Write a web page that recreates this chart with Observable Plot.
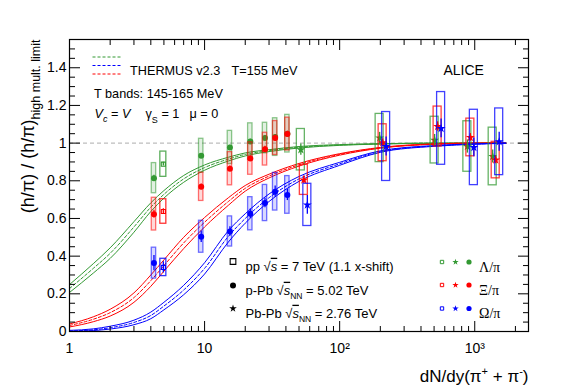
<!DOCTYPE html>
<html>
<head>
<meta charset="utf-8">
<script src="https://cdn.jsdelivr.net/npm/d3@7"></script>
<script src="https://cdn.jsdelivr.net/npm/@observablehq/plot@0.6"></script>
<style>
  html, body { margin: 0; padding: 0; background: #fff; }
  #chart svg { display: block; }
</style>
</head>
<body>
<div id="chart"></div>
<script>
// ---------------- data ----------------
const speciesNames = ["Λ/π", "Ξ/π", "Ω/π"];
const speciesColors = ["#339933", "#ff0000", "#0000ff"];

// pp 7 TeV (plotted with 1.1 x-shift)
const ppShift = 1.1;
const ppX = [4.5];
const ppLambda = [0.888], ppLambdaSys = [0.067], ppLambdaStat = [0.01];
const ppXi = [0.637], ppXiSys = [0.065], ppXiStat = [0.015];
const ppOmega = [0.340], ppOmegaSys = [0.046], ppOmegaStat = [0.03];

// p-Pb 5.02 TeV
const pPbX = [4.22, 9.44, 15.4, 21.8, 28.0, 33.3, 41.0];
const pPbLambda = [0.814, 0.933, 0.977, 1.008, 1.027, 1.032, 1.050];
const pPbLambdaSys = [0.080, 0.090, 0.088, 0.097, 0.081, 0.100, 0.100];
const pPbLambdaStat = [0.015, 0.012, 0.012, 0.012, 0.012, 0.012, 0.012];
const pPbXi = [0.623, 0.768, 0.864, 0.918, 0.968, 1.027, 1.048];
const pPbXiSys = [0.087, 0.075, 0.088, 0.086, 0.087, 0.090, 0.087];
const pPbXiStat = [0.02, 0.015, 0.015, 0.015, 0.015, 0.015, 0.015];
const pPbOmega = [0.363, 0.503, 0.531, 0.625, 0.682, 0.742, 0.725];
const pPbOmegaSys = [0.082, 0.085, 0.080, 0.088, 0.096, 0.100, 0.100];
const pPbOmegaStat = [0.04, 0.03, 0.025, 0.025, 0.025, 0.03, 0.03];

// Pb-Pb 2.76 TeV
const PbPbX = [54.3, 208, 531, 928, 1429];
const PbPbLambda = [0.965, 1.027, 1.016, 0.982, 0.929];
const PbPbLambdaSys = [0.110, 0.128, 0.124, 0.134, 0.153];
const PbPbLambdaStat = [0.03, 0.03, 0.03, 0.035, 0.035];
const PbPbXi = [0.805, 1.002, 1.088, 1.030, 0.910];
const PbPbXiSys = [0.080, 0.098, 0.106, 0.100, 0.097];
const PbPbXiStat = [0.02, 0.02, 0.025, 0.02, 0.02];
const PbPbOmega = [0.672, 0.982, 1.078, 0.977, 1.007];
const PbPbOmegaSys = [0.112, 0.183, 0.193, 0.200, 0.177];
const PbPbOmegaStat = [0.05, 0.05, 0.05, 0.05, 0.05];

// THERMUS v2.3 curves (T=155 MeV central, 145-165 MeV band edges)
const curveX = [1, 1.5, 2, 3, 4, 5, 7, 10, 15, 20, 30, 50, 100, 200, 500, 1000, 1700];
const lambdaMid = [0.228, 0.335, 0.415, 0.555, 0.660, 0.728, 0.810, 0.870, 0.915, 0.940, 0.960, 0.978, 0.990, 0.996, 1.000, 1.000, 1.000];
const lambdaLo  = [0.207, 0.310, 0.388, 0.527, 0.637, 0.708, 0.792, 0.856, 0.905, 0.932, 0.955, 0.974, 0.988, 0.995, 0.999, 1.000, 1.000];
const lambdaHi  = [0.249, 0.360, 0.444, 0.583, 0.683, 0.748, 0.828, 0.884, 0.925, 0.948, 0.965, 0.982, 0.992, 0.997, 1.000, 1.000, 1.000];
const xiMid = [0.032, 0.065, 0.100, 0.180, 0.270, 0.350, 0.470, 0.580, 0.690, 0.760, 0.825, 0.885, 0.940, 0.975, 0.995, 1.000, 1.000];
const xiLo  = [0.024, 0.052, 0.082, 0.155, 0.240, 0.320, 0.440, 0.555, 0.670, 0.745, 0.815, 0.878, 0.936, 0.973, 0.994, 0.999, 1.000];
const xiHi  = [0.040, 0.078, 0.118, 0.205, 0.300, 0.380, 0.500, 0.605, 0.710, 0.775, 0.835, 0.892, 0.944, 0.977, 0.996, 1.000, 1.000];
const omegaMid = [0.003, 0.009, 0.020, 0.048, 0.085, 0.135, 0.220, 0.335, 0.505, 0.600, 0.710, 0.810, 0.890, 0.955, 0.985, 0.995, 1.000];
const omegaLo  = [0.000, 0.005, 0.013, 0.036, 0.068, 0.115, 0.195, 0.305, 0.475, 0.575, 0.690, 0.797, 0.882, 0.951, 0.983, 0.994, 0.999];
const omegaHi  = [0.006, 0.014, 0.028, 0.060, 0.103, 0.155, 0.245, 0.365, 0.535, 0.625, 0.730, 0.823, 0.898, 0.959, 0.987, 0.996, 1.000];

// axis ticks and labels
const yMajor = [0, 0.2, 0.4, 0.6, 0.8, 1, 1.2, 1.4];
const yTickLabels = ["0", "0.2", "0.4", "0.6", "0.8", "1", "1.2", "1.4"];
const yMinor = [0.05, 0.1, 0.15, 0.25, 0.3, 0.35, 0.45, 0.5, 0.55, 0.65, 0.7, 0.75, 0.85, 0.9, 0.95, 1.05, 1.1, 1.15, 1.25, 1.3, 1.35, 1.45, 1.5];
const xMajor = [1, 10, 100, 1000];
const xTickLabels = ["1", "10", "10²", "10³"];
const xMinor = [2, 3, 4, 5, 6, 7, 8, 9, 20, 30, 40, 50, 60, 70, 80, 90, 200, 300, 400, 500, 600, 700, 800, 900, 2000];

// ---------------- build ----------------
const serif = "'Liberation Serif', 'DejaVu Serif', serif";
const sans = "'Liberation Sans', Arial, Helvetica, sans-serif";

function rows(xs, vals, sys, stat, shift) {
  return xs.map((x, i) => ({
    x: x * shift, y: vals[i],
    lo: vals[i] - sys[i], hi: vals[i] + sys[i],
    slo: vals[i] - stat[i], shi: vals[i] + stat[i]
  }));
}

const systems = [
  {xs: ppX, shift: ppShift, vals: [ppLambda, ppXi, ppOmega], sys: [ppLambdaSys, ppXiSys, ppOmegaSys], stat: [ppLambdaStat, ppXiStat, ppOmegaStat],
   symbol: "square", filled: false, r: 2.3, half: 3, dxs: [0, 0, 0], boxOpacity: 0.8, boxFill: 0},
  {xs: pPbX, shift: 1, vals: [pPbLambda, pPbXi, pPbOmega], sys: [pPbLambdaSys, pPbXiSys, pPbOmegaSys], stat: [pPbLambdaStat, pPbXiStat, pPbOmegaStat],
   symbol: "circle", filled: true, r: 3, half: 2.2, dxs: [0, 0, 0], boxOpacity: 0.55, boxFill: 0.15},
  {xs: PbPbX, shift: 1, vals: [PbPbLambda, PbPbXi, PbPbOmega], sys: [PbPbLambdaSys, PbPbXiSys, PbPbOmegaSys], stat: [PbPbLambdaStat, PbPbXiStat, PbPbOmegaStat],
   symbol: "star", filled: true, r: 2.8, half: 4, dxs: [-3, 0, 3.5], boxOpacity: 0.75, boxFill: 0}
];

const marks = [];
marks.push(Plot.ruleY([1], {stroke: "#bdbdbd", strokeDasharray: "4,3", strokeWidth: 1.3}));

// model curves
const curveSets = [[lambdaLo, lambdaMid, lambdaHi], [xiLo, xiMid, xiHi], [omegaLo, omegaMid, omegaHi]];
curveSets.forEach((set, s) => {
  const c = curveX.map((x, i) => ({x, lo: set[0][i], mid: set[1][i], hi: set[2][i], sp: speciesNames[s]}));
  marks.push(Plot.line(c, {x: "x", y: "lo", stroke: "sp", strokeWidth: 1, curve: "monotone-x"}));
  marks.push(Plot.line(c, {x: "x", y: "hi", stroke: "sp", strokeWidth: 1, curve: "monotone-x"}));
  marks.push(Plot.line(c, {x: "x", y: "mid", stroke: "sp", strokeWidth: 1, strokeDasharray: "3,2", curve: "monotone-x"}));
});

// data points
systems.forEach(sysDef => {
  [0, 1, 2].forEach(s => {
    const d = rows(sysDef.xs, sysDef.vals[s], sysDef.sys[s], sysDef.stat[s], sysDef.shift).map(r => ({...r, sp: speciesNames[s]}));
    const dx = sysDef.dxs[s];
    marks.push(Plot.rect(d, {x1: "x", x2: "x", y1: "lo", y2: "hi", fill: "sp", fillOpacity: sysDef.boxFill, stroke: "sp", strokeWidth: 1.3,
      strokeOpacity: sysDef.boxOpacity, insetLeft: -sysDef.half, insetRight: -sysDef.half, dx}));
    marks.push(Plot.ruleX(d, {x: "x", y1: "slo", y2: "shi", stroke: "sp", strokeWidth: 1.3, dx}));
    marks.push(Plot.dot(d, sysDef.filled
      ? {x: "x", y: "y", symbol: sysDef.symbol, r: sysDef.r, fill: "sp", dx}
      : {x: "x", y: "y", symbol: sysDef.symbol, r: sysDef.r, fill: "none", stroke: "sp", strokeWidth: 1.1, dx}));
  });
});

// frame + axes (ROOT style: ticks inside, on all four sides)
marks.push(Plot.frame({stroke: "#000", strokeWidth: 1.2}));
marks.push(Plot.axisY(yMajor, {anchor: "left", tickSize: 11, dx: 11, fill: "none", label: null}));
marks.push(Plot.axisY(yMajor, {anchor: "right", tickSize: 11, dx: -11, fill: "none", label: null}));
marks.push(Plot.axisY(yMinor, {anchor: "left", tickSize: 6, dx: 6, fill: "none", label: null}));
marks.push(Plot.axisY(yMinor, {anchor: "right", tickSize: 6, dx: -6, fill: "none", label: null}));
marks.push(Plot.axisX(xMajor, {anchor: "bottom", tickSize: 10, dy: -10, fill: "none", label: null}));
marks.push(Plot.axisX(xMajor, {anchor: "top", tickSize: 10, dy: 10, fill: "none", label: null}));
marks.push(Plot.axisX(xMinor, {anchor: "bottom", tickSize: 5, dy: -5, fill: "none", label: null}));
marks.push(Plot.axisX(xMinor, {anchor: "top", tickSize: 5, dy: 5, fill: "none", label: null}));
marks.push(Plot.axisY(yMajor, {anchor: "left", tickSize: 0, tickPadding: 3, fontSize: 14, label: null,
  tickFormat: d => yTickLabels[yMajor.indexOf(d)]}));
marks.push(Plot.axisX(xMajor, {anchor: "bottom", tickSize: 0, tickPadding: 12, fontSize: 14, label: null,
  tickFormat: d => xTickLabels[xMajor.indexOf(d)]}));

// axis titles
const yTitle = "(h/π) / (h/π)high mult. limit";
const xTitle = "dN/dy(π+ + π-)";
marks.push(Plot.text([yTitle], {frameAnchor: "top-left", dx: -36, dy: 0, rotate: -90,
  textAnchor: "end", lineAnchor: "bottom", fontSize: 18, fill: "#000"}));
marks.push(Plot.text([xTitle], {frameAnchor: "bottom-right", dx: 0, dy: 50,
  textAnchor: "end", lineAnchor: "bottom", fontSize: 17, fill: "#000"}));

// top-left legend
const modelLabel = "THERMUS v2.3", tempLabel = "T=155 MeV", bandLabel = "T bands: 145-165 MeV";
const vcLabel = "Vc = V", gsLabel = "γS = 1", muLabel = "μ = 0";
const dashSym = {draw(ctx) { ctx.moveTo(-14, 0); ctx.lineTo(14, 0); }};
[[0, 17.5], [2, 26], [1, 34.5]].forEach(([s, dy]) => {
  marks.push(Plot.dot([0], {frameAnchor: "top-left", dx: 37, dy, symbol: dashSym, fill: "none",
    stroke: speciesColors[s], strokeWidth: 1, strokeDasharray: "3,2"}));
});
marks.push(Plot.text([modelLabel], {frameAnchor: "top-left", dx: 60.5, dy: 26.5, textAnchor: "start", fontSize: 12.7, fill: "#000"}));
marks.push(Plot.text([tempLabel], {frameAnchor: "top-left", dx: 162, dy: 26.5, textAnchor: "start", fontSize: 12.7, fill: "#000"}));
marks.push(Plot.text([bandLabel], {frameAnchor: "top-left", dx: 24.5, dy: 49.5, textAnchor: "start", fontSize: 12.7, fill: "#000"}));
marks.push(Plot.text([vcLabel], {frameAnchor: "top-left", dx: 25, dy: 69, textAnchor: "start", fontSize: 12.7, fill: "#000"}));
marks.push(Plot.text([gsLabel], {frameAnchor: "top-left", dx: 76, dy: 69, textAnchor: "start", fontSize: 12.7, fill: "#000"}));
marks.push(Plot.text([muLabel], {frameAnchor: "top-left", dx: 120, dy: 69, textAnchor: "start", fontSize: 12.7, fill: "#000"}));
marks.push(Plot.text(["ALICE"], {frameAnchor: "top-left", dx: 374, dy: 26, textAnchor: "start", fontSize: 14, fill: "#000"}));

// bottom legend: systems
const sysLegend = [
  {label: "pp √s = 7 TeV (1.1 x-shift)", symbol: "square", filled: false, r: 3.2, dy: 222},
  {label: "p-Pb √sNN = 5.02 TeV", symbol: "circle", filled: true, r: 3, dy: 246},
  {label: "Pb-Pb √sNN = 2.76 TeV", symbol: "star", filled: true, r: 2.4, dy: 269}
];
sysLegend.forEach(L => {
  marks.push(Plot.dot([0], L.filled
    ? {frameAnchor: "top-left", dx: 163.5, dy: L.dy, symbol: L.symbol, r: L.r, fill: "#000"}
    : {frameAnchor: "top-left", dx: 163.5, dy: L.dy, symbol: L.symbol, r: L.r, fill: "none", stroke: "#000", strokeWidth: 1.1}));
  marks.push(Plot.text([L.label], {frameAnchor: "top-left", dx: 176, dy: L.dy, textAnchor: "start", fontSize: 13, fill: "#000"}));
});
// bottom legend: species
[222.5, 245.5, 269].forEach((dy, s) => {
  marks.push(Plot.dot([0], {frameAnchor: "top-left", dx: 372.5, dy, symbol: "square", r: 1.9, fill: "none", stroke: speciesColors[s], strokeWidth: 1}));
  marks.push(Plot.dot([0], {frameAnchor: "top-left", dx: 386, dy, symbol: "star", r: 2, fill: speciesColors[s]}));
  marks.push(Plot.dot([0], {frameAnchor: "top-left", dx: 399.5, dy, symbol: "circle", r: 2.6, fill: speciesColors[s]}));
  marks.push(Plot.text([speciesNames[s]], {frameAnchor: "top-left", dx: 409.5, dy, textAnchor: "start", fontSize: 14, fontFamily: serif, fill: "#000"}));
});

const chart = Plot.plot({
  width: 581, height: 390,
  marginLeft: 69, marginRight: 53, marginTop: 39, marginBottom: 59,
  style: {fontFamily: sans, background: "#fff", color: "#000", overflow: "visible"},
  x: {type: "log", domain: [1, 2500]},
  y: {domain: [0, 1.55]},
  color: {domain: speciesNames, range: speciesColors},
  marks
});
document.getElementById("chart").append(chart);

// rich text (subscripts / superscripts): find the text element by its content
function rich(content, segs) {
  const t = d3.select(chart).selectAll("text").filter(function () { return this.textContent === content; });
  if (t.empty()) return;
  t.text(null);
  let cur = 0;
  segs.forEach(s => {
    const ts = t.append("tspan").text(s.t).attr("fill", "#000");
    const shift = s.shift || 0;
    if (shift !== cur) { ts.attr("dy", shift - cur); cur = shift; }
    if (s.size) ts.attr("font-size", s.size);
    if (s.italic) ts.attr("font-style", "italic");
    if (s.over) ts.attr("text-decoration", "overline");
  });
}
rich(yTitle, [{t: "(h/π) / (h/π)"}, {t: "high mult. limit", size: 12.5, shift: 6}]);
rich(xTitle, [{t: "dN/dy(π"}, {t: "+", size: 11, shift: -7}, {t: " + π"}, {t: "-", size: 11, shift: -7}, {t: ")"}]);
rich(vcLabel, [{t: "V", italic: true}, {t: "c", italic: true, size: 9, shift: 4}, {t: " = "}, {t: "V", italic: true}]);
rich(gsLabel, [{t: "γ"}, {t: "S", size: 9, shift: 5}, {t: " = 1"}]);
rich(sysLegend[0].label, [{t: "pp "}, {t: "√"}, {t: "s", italic: true, over: true}, {t: " = 7 TeV (1.1 x-shift)"}]);
rich(sysLegend[1].label, [{t: "p-Pb "}, {t: "√"}, {t: "s", italic: true, over: true}, {t: "NN", size: 8.5, shift: 4}, {t: " = 5.02 TeV"}]);
rich(sysLegend[2].label, [{t: "Pb-Pb "}, {t: "√"}, {t: "s", italic: true, over: true}, {t: "NN", size: 8.5, shift: 4}, {t: " = 2.76 TeV"}]);
</script>
</body>
</html>
